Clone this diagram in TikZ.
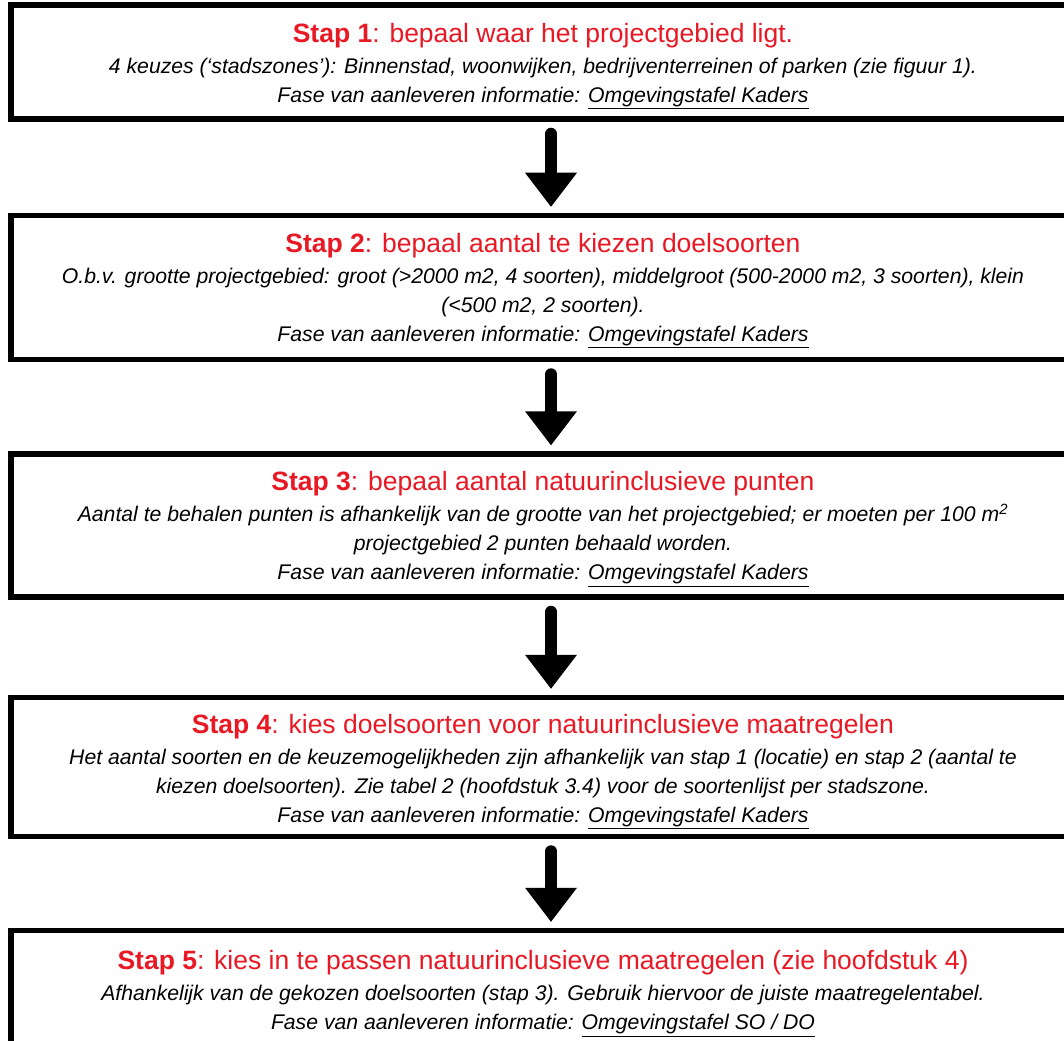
\documentclass[tikz,border=0pt]{standalone}
\usepackage{fontspec}
\setmainfont{Liberation Sans}
\usetikzlibrary{arrows.meta}
\definecolor{stapred}{RGB}{232,24,36}
\newcommand{\staptitle}[2]{{\fontsize{26.5}{30}\selectfont\color{stapred}\textbf{#1}: #2}}
\newcommand{\fasetext}[1]{\textit{Fase van aanleveren informatie: \underline{#1}}}
\begin{document}
\begin{tikzpicture}[x=1pt,y=-1pt,
  stapbox/.style={draw=black,line width=5.5pt,fill=white,minimum width=1064pt,inner sep=0pt},
  staptext/.style={align=center,inner sep=0pt,font=\fontsize{21.2}{29}\selectfont},
  flowarrow/.style={line width=12pt,line cap=round,
    -{Triangle[width=52pt,length=34pt,line width=0pt]}}]
\useasboundingbox (0,0) rectangle (1064,1040);
\node[stapbox,minimum height=114pt] (b1) at (543,62) {};
\node[stapbox,minimum height=144pt] (b2) at (543,287.5) {};
\node[stapbox,minimum height=143pt] (b3) at (543,525.5) {};
\node[stapbox,minimum height=139pt] (b4) at (543,767) {};
\node[stapbox,minimum height=120pt] (b5) at (543,990.5) {};
\node[staptext] (t1) at ([yshift=-4pt]b1.center) {%
  \staptitle{Stap 1}{bepaal waar het projectgebied ligt.}\\[2pt]
  \textit{4 keuzes (‘stadszones’): Binnenstad, woonwijken, bedrijventerreinen of parken (zie figuur 1).}\\
  \fasetext{Omgevingstafel Kaders}};
\node[staptext] (t2) at ([yshift=-3pt]b2.center) {%
  \staptitle{Stap 2}{bepaal aantal te kiezen doelsoorten}\\[2pt]
  \textit{O.b.v. grootte projectgebied: groot (>2000 m2, 4 soorten), middelgroot (500-2000 m2, 3 soorten), klein}\\
  \textit{(<500 m2, 2 soorten).}\\
  \fasetext{Omgevingstafel Kaders}};
\node[staptext] (t3) at ([yshift=-3.5pt]b3.center) {%
  \staptitle{Stap 3}{bepaal aantal natuurinclusieve punten}\\[2pt]
  \textit{Aantal te behalen punten is afhankelijk van de grootte van het projectgebied; er moeten per 100 m\textsuperscript{2}}\\
  \textit{projectgebied 2 punten behaald worden.}\\
  \fasetext{Omgevingstafel Kaders}};
\node[staptext] (t4) at ([yshift=-4.5pt]b4.center) {%
  \staptitle{Stap 4}{kies doelsoorten voor natuurinclusieve maatregelen}\\[2pt]
  \textit{Het aantal soorten en de keuzemogelijkheden zijn afhankelijk van stap 1 (locatie) en stap 2 (aantal te}\\
  \textit{kiezen doelsoorten). Zie tabel 2 (hoofdstuk 3.4) voor de soortenlijst per stadszone.}\\
  \fasetext{Omgevingstafel Kaders}};
\node[staptext] (t5) at ([yshift=-3pt]b5.center) {%
  \staptitle{Stap 5}{kies in te passen natuurinclusieve maatregelen (zie hoofdstuk 4)}\\[2pt]
  \textit{Afhankelijk van de gekozen doelsoorten (stap 3). Gebruik hiervoor de juiste maatregelentabel.}\\
  \fasetext{Omgevingstafel SO / DO}};
\draw[flowarrow] ([xshift=8pt,yshift=-12pt]b1.south) -- ([xshift=8pt,yshift=6pt]b2.north);
\draw[flowarrow] ([xshift=8pt,yshift=-12pt]b2.south) -- ([xshift=8pt,yshift=6pt]b3.north);
\draw[flowarrow] ([xshift=8pt,yshift=-12pt]b3.south) -- ([xshift=8pt,yshift=6pt]b4.north);
\draw[flowarrow] ([xshift=8pt,yshift=-12pt]b4.south) -- ([xshift=8pt,yshift=6pt]b5.north);
\end{tikzpicture}
\end{document}
